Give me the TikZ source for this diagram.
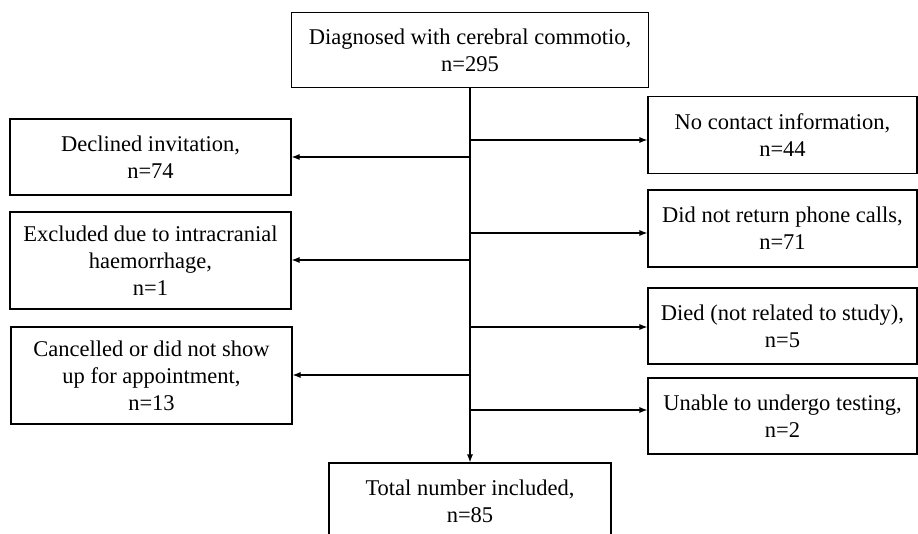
\documentclass[tikz,border=0pt]{standalone}
\usepackage{fontspec}
\setmainfont{Liberation Serif}
\usetikzlibrary{arrows.meta}

\tikzset{
	box/.style={draw, line width=1.1pt, align=center, inner sep=0pt,
		font=\fontsize{22.5}{27}\selectfont},
	arr/.style={line width=1.1pt, -{Latex[length=8pt,width=6pt]}}
}

\begin{document}
\begin{tikzpicture}[x=1pt, y=-1pt]
		\useasboundingbox (0, 0) rectangle (918, 534);
		\clip (0, 0) rectangle (918, 534);
	
		% top and bottom
		\node[box, minimum width=357pt, minimum height=75pt] (diag) at (470, 50) {Diagnosed with cerebral commotio,\\n=295};
		\node[box, minimum width=282pt, minimum height=77pt] (total) at (470, 501.5) {Total number included,\\n=85};
		
		% left column
		\node[box, minimum width=281pt, minimum height=76pt] (declined) at (150.5, 157) {Declined invitation,\\n=74};
		\node[box, minimum width=281pt, minimum height=97pt] (excluded) at (150.5, 260.5) {Excluded due to intracranial\\haemorrhage,\\n=1};
		\node[box, minimum width=281pt, minimum height=97pt] (cancelled) at (151.5, 375.5) {Cancelled or did not show\\up for appointment,\\n=13};
		
		% right column
		\node[box, minimum width=269pt, minimum height=77pt] (nocontact) at (782.5, 135) {No contact information,\\n=44};
		\node[box, minimum width=269pt, minimum height=77pt] (phone) at (782.5, 228.5) {Did not return phone calls,\\n=71};
		\node[box, minimum width=269pt, minimum height=76pt] (died) at (782.5, 326) {Died (not related to study),\\n=5};
		\node[box, minimum width=269pt, minimum height=76pt] (unable) at (782.5, 416) {Unable to undergo testing,\\n=2};
		
		\coordinate (l1) at (470, 157);
		\coordinate (l2) at (470, 260);
		\coordinate (l3) at (470, 375);
		\coordinate (r1) at (470, 140);
		\coordinate (r2) at (470, 233);
		\coordinate (r3) at (470, 327);
		\coordinate (r4) at (470, 410);
		
		\draw[arr] (diag.south) -- (total.north);
		
		\draw[arr] (l1) -- (declined.east |- l1);
		\draw[arr] (l2) -- (excluded.east |- l2);
		\draw[arr] (l3) -- (cancelled.east |- l3);
		
		\draw[arr] (r1) -- (nocontact.west |- r1);
		\draw[arr] (r2) -- (phone.west |- r2);
		\draw[arr] (r3) -- (died.west |- r3);
		\draw[arr] (r4) -- (unable.west |- r4);
	\end{tikzpicture}
\end{document}
